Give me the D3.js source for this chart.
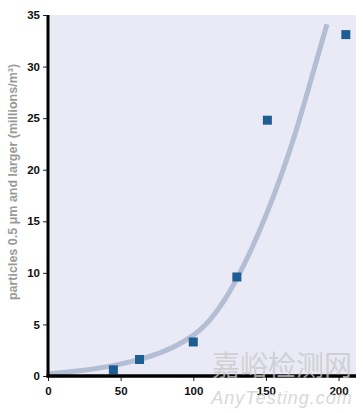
<!DOCTYPE html>
<html><head><meta charset="utf-8">
<script src="https://cdn.jsdelivr.net/npm/d3@7"></script>
<style>body{margin:0;background:#fff;}svg{display:block;}</style>
</head><body>
<svg id="c" width="364" height="413"></svg>
<script>
// measured points (x, y)
const pointX = [45, 63, 100, 130, 151, 205];
const pointY = [0.6, 1.6, 3.3, 9.6, 24.8, 33.1];
// fitted trend curve
const curveX = [0, 20, 40, 60, 80, 100, 112, 125, 140, 150, 160, 170, 180, 192];
const curveY = [0.2, 0.45, 0.85, 1.45, 2.3, 3.8, 5.4, 8.0, 12.2, 15.5, 19.2, 23.3, 28.2, 34.1];
const xTicks = [0, 50, 100, 150, 200];
const yTicks = [0, 5, 10, 15, 20, 25, 30, 35];
const yTitle = "particles 0.5 \u03bcm and larger (millions/m\u00b3)";
const watermark = ["嘉峪检测网", "AnyTesting.com"];

const svg = d3.select("#c");
const L = 48, R = 356, T = 15, B = 376;
const x = d3.scaleLinear().domain([0, 212]).range([L, R]);
const y = d3.scaleLinear().domain([0, 35]).range([B, T]);

svg.append("rect").attr("x", L).attr("y", T).attr("width", R - L).attr("height", B - T).attr("fill", "#e9eaf5");

const font = "Liberation Sans, Arial, sans-serif";

// curve
const cdata = curveX.map((d, i) => [d, curveY[i]]);
svg.append("path").datum(cdata)
  .attr("d", d3.line().x(d => x(d[0])).y(d => y(d[1])).curve(d3.curveBasis))
  .attr("fill", "none").attr("stroke", "#b3bdd4").attr("stroke-width", 5).attr("stroke-linecap", "butt");

// points
const pdata = pointX.map((d, i) => [d, pointY[i]]);
svg.selectAll("rect.pt").data(pdata).enter().append("rect").attr("class", "pt")
  .attr("x", d => x(d[0]) - 4.5).attr("y", d => y(d[1]) - 4.5)
  .attr("width", 9).attr("height", 9).attr("fill", "#1e5d92");

// axes
const yAxis = svg.append("g").attr("transform", `translate(${L},0)`)
  .call(d3.axisLeft(y).tickValues(yTicks).tickSize(5).tickPadding(3).tickFormat(d3.format("d")));
const xAxis = svg.append("g").attr("transform", `translate(0,${B})`)
  .call(d3.axisBottom(x).tickValues(xTicks).tickSize(5).tickPadding(6).tickFormat(d3.format("d")));
[yAxis, xAxis].forEach(g => {
  g.select(".domain").remove();
  g.selectAll(".tick line").attr("stroke", "#222").attr("stroke-width", 1);
  g.selectAll(".tick text").attr("font-family", font).attr("font-size", 11.5).attr("font-weight", "bold").attr("fill", "#111");
});
// thick axis lines
svg.append("line").attr("x1", L).attr("x2", L).attr("y1", T).attr("y2", B + 1.5).attr("stroke", "#000").attr("stroke-width", 3);
svg.append("line").attr("x1", L - 1.5).attr("x2", R).attr("y1", B).attr("y2", B).attr("stroke", "#000").attr("stroke-width", 3.5);

// y title
svg.append("text").attr("transform", `translate(17,${(67 + 297) / 2}) rotate(-90)`)
  .attr("text-anchor", "middle").attr("font-family", font).attr("font-size", 12.5)
  .attr("font-weight", "bold").attr("fill", "#9a9a9a").text(yTitle);

// watermark
svg.append("text").attr("x", 282).attr("y", 376).attr("text-anchor", "middle")
  .attr("font-family", "Noto Sans CJK SC").attr("font-size", 28).attr("fill", "#c8c8c8").attr("opacity", 0.75).text(watermark[0]);
svg.append("text").attr("x", 282).attr("y", 404).attr("text-anchor", "middle")
  .attr("font-family", font).attr("font-style", "italic").attr("font-size", 18).attr("letter-spacing", 1)
  .attr("fill", "#cfcfcf").attr("opacity", 0.8).text(watermark[1]);
</script>
</body></html>
